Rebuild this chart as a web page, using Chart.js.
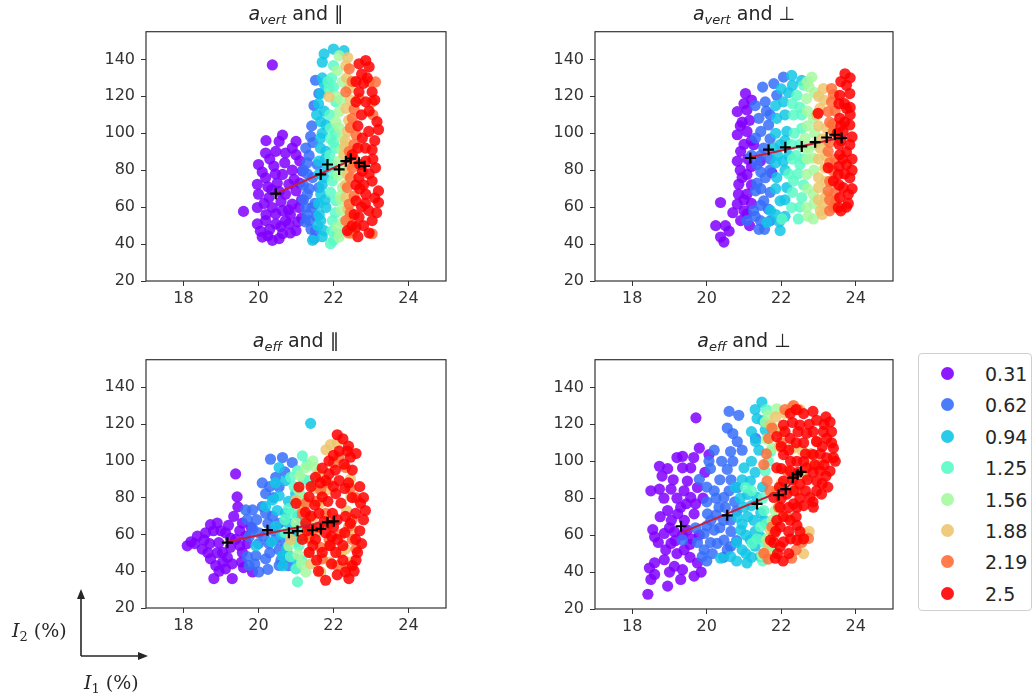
<!DOCTYPE html>
<html>
<head>
<meta charset="utf-8">
<script src="https://cdn.jsdelivr.net/npm/chart.js@4/dist/chart.umd.min.js"></script>
<style>
  body { margin: 0; background: #fff; width: 1036px; height: 700px; position: relative; overflow: hidden; }
  canvas { position: absolute; }
  .title { position: absolute; text-align: center; font-family: "DejaVu Sans", sans-serif; font-size: 19px; color: #262626; line-height: 22px; }
  .title sub { font-size: 13px; font-style: italic; vertical-align: -4px; line-height: 0; }
  .legend { position: absolute; left: 918px; top: 353px; width: 114px; height: 258px; border: 1px solid #cfcfcf; border-radius: 4px; box-sizing: border-box; }
  .legend .row { position: absolute; left: 0; height: 24px; width: 112px; font-family: "DejaVu Sans", sans-serif; font-size: 19px; color: #262626; line-height: 24px; }
  .legend .dot { position: absolute; left: 22px; top: 5px; width: 13px; height: 13px; border-radius: 50%; }
  .legend .lab { position: absolute; left: 66px; top: 0; }
  .note { position: absolute; font-family: "DejaVu Serif", serif; font-size: 19px; color: #262626; line-height: 22px; white-space: nowrap; }
  .note sub { font-size: 13px; font-style: normal; vertical-align: -4px; line-height: 0; }
</style>
</head>
<body>
<canvas id="c0" width="357" height="290" style="left:99px;top:24px"></canvas>
<canvas id="c1" width="355" height="290" style="left:548px;top:24px"></canvas>
<canvas id="c2" width="357" height="289" style="left:99px;top:352px"></canvas>
<canvas id="c3" width="355" height="290" style="left:548px;top:352px"></canvas>

<div class="title" style="left:146px;top:2px;width:300px"><i>a</i><sub>vert</sub> and ∥</div>
<div class="title" style="left:595px;top:2px;width:298px"><i>a</i><sub>vert</sub> and ⊥</div>
<div class="title" style="left:146px;top:329px;width:300px"><i>a</i><sub>eff</sub> and ∥</div>
<div class="title" style="left:595px;top:329px;width:298px"><i>a</i><sub>eff</sub> and ⊥</div>

<div class="legend" id="legend"></div>

<svg width="1036" height="700" style="position:absolute;left:0;top:0;pointer-events:none">
  <line x1="81" y1="656" x2="81" y2="596" stroke="#262626" stroke-width="1.6"/>
  <polygon points="81,589 77,599 85,599" fill="#262626"/>
  <line x1="81" y1="656" x2="141" y2="656" stroke="#262626" stroke-width="1.6"/>
  <polygon points="148,656 138,652 138,660" fill="#262626"/>
</svg>
<div class="note" style="left:12px;top:619px"><i>I</i><sub>2</sub> (%)</div>
<div class="note" style="left:84px;top:671px"><i>I</i><sub>1</sub> (%)</div>

<script>
// size classes (legend) and axis ticks
const sizeLabels = ['0.31', '0.62', '0.94', '1.25', '1.56', '1.88', '2.19', '2.5'];
const xTicks = [18, 20, 22, 24];
const yTicks = [20, 40, 60, 80, 100, 120, 140];

// a_vert and parallel : one list of [I1, I2] per size class
const vertPar = [
  [[20.64,99],[20.55,95.6],[21.0,95.6],[20.19,89.3],[20.46,90.2],[20.72,89.3],[21.0,88.4],[20.0,83.1],[20.41,82.2],[20.64,77.7],[21.17,79.5],[19.97,72.4],[20.19,75.9],[20.81,72.4],[20.0,67],[20.28,65.2],[20.72,67],[21.0,68.8],[19.97,59.8],[20.37,59.8],[20.64,58.1],[20.9,61.6],[21.08,59.8],[19.97,50.9],[20.19,52.7],[20.46,50.9],[20.81,50.9],[20.1,43.8],[20.37,42],[20.64,45.6],[21.0,47.3],[20.46,56.3],[20.72,52.7],[20.37,137],[19.6,57.7],
   [20.2,96],[20.9,92],[20.3,86],[20.7,84],[21.1,85],[20.1,79],[20.45,78],[20.9,80],[20.25,71],[20.5,73],[21.1,73],[20.55,68.5],[20.15,62],[20.6,63],[21.15,64],[20.85,56],[21.15,54],[20.2,56],[20.05,47],[20.3,48],[20.6,49.5],[20.85,46],[20.25,44.5],[20.55,43],[20.8,58.5],[20.35,69.5],[21.05,52],[20.95,75]],
  [[21.52,128.7],[21.61,121.5],[21.48,115],[21.39,98.3],[21.26,92],[21.44,76],[21.3,67],[21.44,59.8],[21.35,52.7],[21.52,47.3],[21.48,42.9],[21.61,70.6],[21.26,59.8],[21.57,83],[21.3,84],[21.2,64],
   [21.35,88],[21.45,95],[21.3,78],[21.2,72],[21.5,62],[21.3,56],[21.4,48],[21.25,52],[21.55,55],[21.2,80],[21.42,104],[21.35,70]],
  [[22.0,145.6],[21.75,143],[21.7,138.5],[21.75,126.9],[21.66,121.5],[21.66,106.3],[21.8,104.5],[21.66,97.4],[21.8,90.2],[21.61,84.9],[21.75,76],[21.66,67],[21.8,59.8],[21.66,52.7],[21.75,47.3],[21.44,42],[22.28,144.7],[21.84,81.3],[21.55,110],
   [21.7,130],[21.6,116],[21.75,112],[21.7,100],[21.65,92],[21.78,86],[21.62,78],[21.7,72],[21.6,62],[21.78,64],[21.62,56],[21.7,44],[21.58,50]],
  [[21.92,40.2],[22.0,136.7],[22.06,117],[21.92,102.7],[22.06,92],[21.97,74.1],[22.06,63.4],[21.97,52.7],[22.1,45.6],[21.88,124.2],[21.97,83.1],[21.9,110],[22.0,95],
   [21.95,130],[21.85,128],[22.0,125],[22.05,100],[21.9,88],[22.02,78],[21.92,68],[22.05,57],[21.95,47],[22.0,42],[21.92,97]],
  [[22.15,142],[22.24,127.8],[22.15,111.7],[22.24,97.4],[22.15,84.9],[22.24,70.6],[22.2,58.1],[22.15,43.8],[22.06,106.3],[22.1,120],[22.2,64],
   [22.1,134],[22.2,118],[22.15,103],[22.22,91],[22.12,77],[22.18,66],[22.25,52],[22.1,49],[22.2,80]],
  [[22.33,136.7],[22.42,124.2],[22.33,113.5],[22.37,101],[22.28,88.4],[22.37,77.7],[22.33,65.2],[22.42,54.5],[22.5,45.6],[21.88,119.7],[22.3,93],
   [22.35,130],[22.45,118],[22.4,107],[22.32,96],[22.42,83],[22.32,72],[22.38,59],[22.45,49],[22.38,141]],
  [[22.42,134.9],[23.12,127.8],[22.33,122.4],[23.03,117],[22.5,108.1],[22.6,99.2],[22.42,90.2],[22.5,81.3],[22.37,70.6],[22.42,61.6],[22.33,52.7],[23.03,45.6],[22.68,118.8],
   [22.5,128],[22.55,113],[22.45,103],[22.55,94],[22.45,76],[22.55,66],[22.45,57],[22.4,46],[22.95,128],[23.05,110],[22.55,86]],
  [[22.68,137.6],[22.86,139.4],[23.03,122.4],[22.68,122.4],[22.86,117],[22.6,117],[23.16,106.3],[22.94,101],[22.77,97.4],[23.03,91.1],[22.86,84.9],[22.5,88.4],[22.68,76],[23.03,74.1],[23.2,68.8],[22.86,67],[22.6,63.4],[23.2,62.5],[22.94,58.1],[22.68,54.5],[23.03,52.7],[22.37,47.3],[22.6,49.1],[22.77,79.5],[23.12,81.3],[22.9,130],[22.6,128],[23.1,96],[22.7,70],
   [22.75,132],[22.95,136],[22.8,127],[23.1,118],[22.75,110],[22.95,112],[23.2,102],[22.65,104],[22.85,92],[22.65,92],[23.05,86],[22.95,78],[22.7,83],[22.6,72],[22.8,72],[23.1,65],[22.75,60],[22.55,56],[22.8,50],[22.95,46],[22.5,50],[23.15,57],[22.65,44],[22.85,62]]
];
const vertParMeans = [[20.46,67.3],[21.66,77.7],[21.84,83.1],[22.15,80.4],[22.33,84.9],[22.46,86.3],[22.68,84.0],[22.83,82.2]];
const vertParFit = [[20.46,67.3],[22.6,86.6]];

// a_vert and perpendicular
const vertPerp = [
  [[21.04,121.5],[20.82,111.7],[21.08,112.6],[20.82,99.2],[21.08,101],[20.91,90.2],[20.82,84.9],[21.08,77.7],[20.86,72.4],[21.08,67],[20.82,61.6],[21.08,56.3],[20.37,62.5],[20.24,50],[20.5,50],[20.37,43.8],[20.46,41.1],[20.91,52.7],[21.75,78.6],[21.26,93.8],[21.44,84.9],[20.95,106],[20.9,80],
   [21.2,118],[21.0,116],[21.15,107],[20.9,104],[21.2,96],[21.0,94],[21.1,86],[21.2,82],[20.95,76],[21.2,72],[21.0,64],[21.2,62],[21.15,50],[21.0,58],[20.85,67],[20.7,57],[20.6,47]],
  [[21.8,126.9],[21.57,117],[21.88,120.6],[21.4,108.1],[21.66,104.5],[21.31,97.4],[21.53,92],[21.35,83.1],[21.57,75.9],[21.31,68.8],[21.53,63.4],[21.26,58.1],[21.08,52.7],[21.44,52.7],[22.06,130.4],[21.71,52.7],[21.3,115],[21.35,73],
   [21.5,125],[21.6,112],[21.45,101],[21.7,97],[21.45,88],[21.7,86],[21.45,79],[21.7,80],[21.45,70],[21.7,68],[21.45,61],[21.65,59],[21.3,55],[21.4,48],[21.55,48],[21.7,110],[21.2,88]],
  [[22.28,131.3],[22.55,128.6],[22.06,117],[21.88,108.1],[22.15,101],[21.97,93.8],[22.06,84.9],[21.88,76],[22.15,70.6],[21.97,63.4],[21.71,58.1],[21.97,47.3],[21.62,51.8],[22.2,122],[21.9,88],
   [22.3,126],[22.0,124],[21.85,115],[22.1,110],[21.85,100],[22.1,96],[21.85,84],[22.1,80],[21.85,70],[22.1,64],[21.85,56],[22.1,55],[21.95,52],[21.8,92],[22.2,88]],
  [[22.42,120.6],[22.33,109.9],[22.55,102.7],[22.28,93.8],[22.5,83.1],[22.33,74.1],[22.55,65.2],[22.28,59.8],[22.46,53.6],[22.02,53.6],[22.5,114],[22.4,88],
   [22.6,126],[22.3,116],[22.55,110],[22.35,100],[22.5,94],[22.3,86],[22.45,78],[22.3,68],[22.5,60],[22.6,72],[22.2,78],[22.6,86]],
  [[22.82,130.4],[22.68,118.8],[22.86,108.1],[22.64,97.4],[22.86,86.6],[22.68,77.7],[22.86,67],[22.68,59.8],[22.86,53.6],[22.75,125],[22.75,92],
   [22.7,128],[22.9,122],[22.7,112],[22.9,100],[22.7,104],[22.9,94],[22.7,86],[22.88,80],[22.7,70],[22.88,62],[22.72,55],[22.65,92]],
  [[23.13,124.2],[23.04,113.5],[23.22,102.7],[23.04,92],[23.17,81.3],[23.0,70.6],[23.13,61.6],[22.95,109.9],[23.1,56],[23.1,97],
   [23.15,118],[23.0,104],[23.2,96],[23.0,86],[23.2,88],[23.0,76],[23.2,74],[23.0,64],[23.2,66],[23.05,58],[23.0,120]],
  [[23.35,124.2],[23.26,111.7],[23.4,101],[23.26,90.2],[23.4,79.5],[23.26,68.8],[23.4,59.8],[23.35,117],[23.3,64],[23.3,95],
   [23.4,121],[23.3,106],[23.45,112],[23.3,84],[23.45,86],[23.3,74],[23.45,68],[23.3,58],[23.45,63],[23.38,105]],
  [[23.71,132.2],[23.75,126],[23.57,120.6],[23.84,121.5],[23.75,113.5],[23.57,108.1],[23.84,104.5],[23.66,101],[23.84,93.8],[23.57,88.4],[23.75,83.1],[23.53,77.7],[23.84,75.9],[23.66,70.6],[23.57,65.2],[23.8,67],[23.53,59.8],[22.99,110.8],[23.26,81.3],[23.4,74.1],[23.8,62],[23.6,96],[23.7,116],
   [23.6,128],[23.85,130],[23.55,116],[23.85,110],[23.6,104],[23.9,98],[23.55,94],[23.75,90],[23.9,86],[23.55,82],[23.7,78],[23.9,70],[23.55,72],[23.75,60],[23.9,80],[23.65,86],[23.85,114],[23.5,100],[23.7,106],[23.6,58]]
];
const vertPerpMeans = [[21.17,86.6],[21.66,91.1],[22.11,92.4],[22.55,92.9],[22.91,95.2],[23.22,97.7],[23.44,99.2],[23.62,97.4]];
const vertPerpFit = [[21.17,87.0],[23.75,98.3]];

// a_eff and parallel
const effPar = [
  [[18.1,53.8],[18.37,59.1],[18.72,65.3],[18.9,66.2],[18.5,52],[18.72,46.7],[19.04,50.2],[18.81,36],[19.12,41.3],[19.3,36],[19.39,92.9],[19.43,80.4],[19.34,69.8],[19.57,66.2],[19.12,60.9],[18.94,55.5],[19.39,57.3],[19.66,59.1],[18.86,43.1],[19.17,47.5],[18.59,60.9],[19.57,50.2],[19.84,39.6],[18.3,55],[19.0,62],
   [18.2,56],[18.55,57],[18.8,62],[19.2,65],[19.5,62],[19.7,55],[18.9,50],[19.25,53],[19.5,54],[18.7,55],[19.05,45],[19.3,44],[19.55,45],[18.95,40],[19.6,42],[19.45,75],[19.25,58],[19.8,64],[18.65,50]],
  [[20.32,100.9],[20.64,101.8],[20.9,99.1],[20.46,91.1],[20.55,85.8],[20.19,82.2],[19.84,73.3],[19.66,73.3],[20.1,75.1],[20.37,69.8],[19.75,58.7],[20.01,60.9],[20.28,55.1],[20.55,51.7],[19.93,48.4],[20.19,46.7],[19.75,43.1],[20.55,43.1],[20.01,39.6],[20.81,48.4],[20.19,71.5],[20.4,62],
   [19.7,68],[19.95,68],[20.25,66],[20.55,66],[19.85,63],[20.15,59],[20.45,57],[20.7,56],[20.0,55],[20.3,50],[20.6,46],[20.8,43],[19.9,44],[20.25,41],[20.4,80],[20.7,94],[20.1,88],[20.3,86],[19.7,48]],
  [[21.39,120.4],[20.37,78.7],[20.72,89.3],[20.46,64.4],[20.72,71.5],[20.99,82.2],[20.9,57.3],[20.64,48.4],[21.08,64.4],[20.19,75.1],[20.55,96.4],[21.0,41.4],[19.93,53.8],[20.8,66],
   [20.5,73],[20.6,60],[20.75,52],[20.95,62],[20.35,56],[20.8,78],[21.05,70],[20.55,81],[20.65,43],[20.95,47],[20.45,88],[21.1,59]],
  [[21.17,102.7],[21.04,94.7],[20.86,91.1],[21.17,80.4],[20.9,71.5],[20.72,60.9],[21.08,53.8],[21.0,41.3],[21.04,34.2],[21.21,64.4],[21.35,89.3],
   [20.95,86],[21.1,76],[20.8,74],[21.0,56],[20.85,48],[21.15,46],[20.7,68],[21.3,98],[21.2,90]],
  [[21.26,96.4],[21.08,83.8],[21.0,66.2],[21.35,57.3],[20.81,53.8],[21.26,39.6],[21.52,96.4],
   [21.1,92],[21.2,79],[21.15,60],[21.05,49],[21.3,70],[21.45,100],[21.15,44]],
  [[21.92,108.9],[21.0,78.7],[20.86,57.3],[21.17,73.3],[21.44,68],[21.35,50.2],[21.66,39.6],[22.46,80.4],[22.32,52],[22.5,62.6],[21.79,84],[21.61,92.9],
   [21.3,60],[21.55,61],[21.4,44],[21.65,77],[22.1,110],[21.8,106],[22.35,73],[22.2,50],[21.9,45],[22.45,45],[21.5,85],[22.45,90]],
  [[21.26,76.9],[21.17,71.5],[21.44,62.6],[21.66,84],[21.79,71.5],[22.15,101.8],[22.32,96.4],[22.41,64.4],[21.92,53.8],[22.1,43.1],[22.5,57.3],[21.7,46.7],[21.88,57.3],
   [21.35,58],[21.55,78],[21.9,66],[22.0,99],[22.45,85],[22.5,68],[22.2,60],[22.6,52],[21.65,53],[22.35,42],[21.85,88],[22.6,80]],
  [[22.1,114.2],[22.15,105.3],[22.37,105.3],[21.88,100],[22.28,98.2],[21.52,91.1],[21.88,92.9],[22.15,89.3],[21.35,80.4],[21.7,80.4],[22.06,82.2],[21.0,76.9],[22.72,76.9],[21.26,66.2],[21.61,71.5],[21.97,71.5],[22.32,69.8],[22.59,71.5],[21.17,57.3],[21.52,57.3],[21.79,60.9],[22.1,57.3],[22.59,57.3],[21.35,50.2],[21.7,50.2],[22.06,50.2],[22.5,43.1],[21.79,35.1],[22.41,36],[22.64,50.2],[22.32,39.6],[21.08,85.8],[21.79,89.3],[22.3,85],[22.0,64],
   [22.25,112],[22.45,102],[22.0,103],[21.7,96],[22.05,95],[22.5,95],[21.4,86],[21.65,88],[22.0,86],[22.4,88],[21.5,76],[21.85,78],[22.2,77],[22.5,80],[22.8,80],[21.4,70],[21.75,67],[22.1,68],[22.45,66],[22.8,68],[21.3,62],[21.6,64],[21.95,59],[22.3,61],[22.7,62],[21.45,54],[21.9,54],[22.25,54],[22.75,55],[21.55,46],[21.95,44],[22.25,46],[22.6,46],[22.1,38],[21.6,40],[22.55,40],[22.85,73],[22.7,86],[21.25,72],[22.4,108],[22.6,104]]
];
const effParMeans = [[19.17,55.5],[20.24,62.3],[20.81,60.9],[21.04,61.8],[21.44,62.3],[21.66,63],[21.84,66.6],[22.01,67.1]];
const effParFit = [[19.12,55.9],[22.06,68.0]];

// a_eff and perpendicular
const effPerp = [
  [[18.42,28],[18.46,42.2],[18.6,38.7],[18.95,32.4],[19.71,123.5],[18.73,97.3],[19.35,102.7],[19.57,96.4],[19.35,96.4],[20.06,103.6],[19.8,107.1],[18.73,84.9],[19.04,84.9],[19.39,84],[19.57,80.4],[19.75,85.8],[18.95,73.3],[19.3,75.1],[19.66,71.5],[18.6,59.1],[18.86,60.9],[19.13,61.8],[19.48,62.7],[18.86,46.7],[19.13,43.1],[19.35,41.3],[19.66,37.8],[19.04,55.5],[19.39,52],[19.75,44.9],[19.48,89.3],[19.22,71.5],
   [18.5,84],[18.8,92],[19.1,90],[19.2,80],[18.85,80],[19.45,77],[19.7,77],[18.75,70],[19.05,68],[19.4,68],[18.55,63],[19.0,64],[19.35,60],[19.6,58],[18.7,56],[19.15,57],[19.55,55],[19.8,60],[18.9,52],[19.2,50],[19.55,48],[18.6,45],[19.0,40],[19.3,36],[18.5,36],[19.85,40],[18.95,96],[19.2,102],[19.65,102],[19.95,94],[19.9,80]],
  [[20.6,127],[20.86,124.9],[20.82,110.7],[20.64,105.3],[20.06,100],[20.55,95.6],[19.8,90.2],[20.2,84],[20.46,80.4],[20.82,85.8],[20.02,71.5],[20.33,75.1],[20.64,68],[19.93,60.9],[20.2,62.7],[20.46,57.3],[19.93,52],[20.28,55.5],[20.64,53.8],[19.88,48.4],[19.35,57.3],[20.11,68],[21.31,112.4],
   [20.1,96],[20.4,100],[20.7,100],[20.35,90],[20.65,90],[20.0,86],[20.6,84],[20.25,80],[20.75,78],[20.0,78],[20.5,75],[20.25,71],[20.45,68],[20.8,73],[20.0,65],[20.35,64],[20.65,62],[19.75,56],[20.1,56],[20.55,52],[20.8,57],[20.15,50],[20.45,48],[19.7,64],[20.0,46],[20.7,115],[20.95,106],[20.55,118],[20.2,106]],
  [[21.48,132],[21.35,123.1],[21.57,116.9],[21.31,110.7],[21.0,96.4],[21.17,89.3],[20.77,85.8],[21.35,80.4],[21.0,75.1],[21.26,68],[20.91,62.7],[21.17,57.3],[20.64,48.4],[21.08,44.9],[21.44,59.1],[20.82,69.8],[20.37,47.5],[21.44,48.4],
   [21.3,128],[21.5,122],[21.2,116],[21.4,106],[21.2,100],[20.95,90],[21.3,94],[21.1,82],[20.9,80],[21.2,76],[21.45,72],[21.1,70],[20.95,66],[21.3,62],[21.05,60],[20.8,56],[21.3,54],[20.95,52],[21.2,48],[20.8,46],[21.05,50],[21.55,68],[21.5,86]],
  [[21.04,85.8],[21.53,73.3],[21.44,64.4],[21.71,53.8],[21.22,55.5],[21.71,105.3],[21.57,94.7],
   [21.6,128],[21.65,100],[21.5,80],[21.6,66],[21.35,58],[21.55,56],[21.5,46],[21.2,84]],
  [[21.88,128.4],[21.57,121.3],[21.75,107.1],[21.48,49.3],[21.71,50.2],[21.84,73.3],
   [21.65,125],[21.8,118],[21.6,112],[21.62,58],[21.8,50],[21.75,68]],
  [[22.28,129.3],[21.71,119.6],[21.97,116],[21.71,62.7],[21.57,50.2],[22.64,60.9],[22.33,107.1],[22.77,98.2],[22.42,84],[21.88,84],
   [22.1,126],[21.85,124],[22.5,128],[21.95,108],[22.55,106],[22.65,92],[22.3,86],[22.0,88],[21.65,56],[22.75,62],[22.6,50],[21.8,66]],
  [[22.33,130.2],[21.66,112.4],[21.53,98.2],[21.62,89.3],[21.75,64.4],[21.53,50.2],[22.28,47.5],[22.73,58.2],[22.15,94.7],[22.95,110.7],[21.93,75.1],
   [22.45,128],[22.1,128],[21.75,118],[21.6,104],[21.7,84],[21.8,60],[21.65,47],[22.4,52],[22.55,56],[22.8,104],[23.0,98],[22.0,110],[22.15,70]],
  [[22.24,125.8],[22.6,125.8],[22.95,122.2],[23.31,121.3],[22.5,119.6],[22.06,119.6],[21.88,113.3],[22.24,112.4],[22.68,115.1],[23.13,116],[22.95,110.7],[23.4,107.1],[23.22,112.4],[22.06,103.6],[22.42,100],[22.86,103.6],[23.22,101.8],[21.88,96.4],[22.24,94.7],[22.68,96.4],[23.04,94.7],[23.31,94.7],[22.06,89.3],[22.5,87.6],[22.95,89.3],[22.15,82.2],[22.77,80.4],[23.08,82.2],[21.8,80.4],[21.97,75.1],[22.33,76.9],[21.88,68],[22.24,68],[21.97,64.4],[22.42,65.3],[21.71,57.3],[22.06,56.4],[22.42,57.3],[21.84,47.5],[21.97,53.8],[22.42,75.1],[22.86,75.1],
   [22.4,128],[22.85,127],[23.2,124],[22.3,121],[22.75,120],[23.15,120],[22.1,116],[22.45,116],[22.85,116],[23.35,116],[22.0,108],[22.4,110],[22.6,110],[23.1,108],[23.35,110],[22.2,106],[22.65,104],[23.05,104],[23.4,102],[22.25,100],[22.6,100],[22.9,98],[23.15,98],[23.45,100],[22.0,96],[22.45,94],[22.85,94],[23.2,92],[22.3,90],[22.7,90],[23.1,88],[21.95,86],[22.35,84],[22.65,84],[22.95,84],[23.25,86],[22.0,80],[22.5,80],[22.85,78],[22.2,75],[22.6,76],[22.05,70],[22.4,70],[21.85,62],[22.2,62],[22.5,62],[21.8,56],[22.25,58],[22.6,58],[21.9,50],[22.2,50],[22.05,46]]
];
const effPerpMeans = [[19.31,64.8],[20.55,70.7],[21.35,76.9],[21.93,81.7],[22.12,84.9],[22.31,91.1],[22.44,92.9],[22.53,94.3]];
const effPerpFit = [[19.31,61.2],[22.12,84.9],[22.5,93.5]];

// rainbow colormap samples for the 8 classes
const classColors = [
  [128, 0, 255], [55, 111, 249], [18, 199, 230], [91, 249, 199],
  [164, 249, 159], [237, 199, 111], [255, 111, 57], [255, 0, 0]
];
const rgba = (c, a) => 'rgba(' + c[0] + ',' + c[1] + ',' + c[2] + ',' + a + ')';

// axes frame on all four sides, like matplotlib spines
const framePlugin = {
  id: 'frame',
  afterDatasetsDraw(chart) {
    const a = chart.chartArea;
    const ctx = chart.ctx;
    ctx.save();
    ctx.strokeStyle = '#333';
    ctx.lineWidth = 1.2;
    ctx.strokeRect(a.left, a.top, a.right - a.left, a.bottom - a.top);
    ctx.restore();
  }
};

const toXY = pts => pts.map(p => ({ x: p[0], y: p[1] }));

function makeChart(canvasId, groups, means, fit) {
  const ctx = document.getElementById(canvasId).getContext('2d');

  const datasets = groups.map((pts, i) => ({
    label: sizeLabels[i],
    data: toXY(pts),
    backgroundColor: rgba(classColors[i], 0.85),
    borderWidth: 0,
    pointRadius: 5.6,
    pointHoverRadius: 5.6,
    order: 10 - i
  }));

  // fitted trend
  datasets.push({
    label: 'fit',
    data: toXY(fit),
    showLine: true,
    borderColor: '#c81e3a',
    borderWidth: 2,
    pointRadius: 0,
    order: 1
  });

  // binned means
  datasets.push({
    label: 'means',
    data: toXY(means),
    pointStyle: 'cross',
    pointRadius: 5.5,
    borderColor: '#000',
    borderWidth: 2.2,
    order: 0
  });

  const tickFont = { family: 'DejaVu Sans', size: 16 };

  return new Chart(ctx, {
    type: 'scatter',
    data: { datasets: datasets },
    options: {
      responsive: false,
      animation: false,
      layout: { padding: { top: 5, right: 10, left: 0, bottom: 0 } },
      plugins: { legend: { display: false }, tooltip: { enabled: false } },
      scales: {
        x: {
          type: 'linear', min: 17, max: 25,
          afterBuildTicks: s => { s.ticks = xTicks.map(v => ({ value: v })); },
          afterFit: s => { s.height = 33; s.paddingLeft = 0; s.paddingRight = 0; },
          grid: { display: true, drawOnChartArea: false, drawTicks: true, tickLength: 5, tickColor: '#333' },
          border: { display: false },
          ticks: { font: tickFont, color: '#333', padding: 3, maxRotation: 0 }
        },
        y: {
          type: 'linear', min: 20, max: 155,
          afterBuildTicks: s => { s.ticks = yTicks.map(v => ({ value: v })); },
          afterFit: s => { s.width = 47; s.paddingTop = 0; s.paddingBottom = 0; },
          grid: { display: true, drawOnChartArea: false, drawTicks: true, tickLength: 5, tickColor: '#333' },
          border: { display: false },
          ticks: { font: tickFont, color: '#333', padding: 6 }
        }
      }
    },
    plugins: [framePlugin]
  });
}

makeChart('c0', vertPar, vertParMeans, vertParFit);
makeChart('c1', vertPerp, vertPerpMeans, vertPerpFit);
makeChart('c2', effPar, effParMeans, effParFit);
makeChart('c3', effPerp, effPerpMeans, effPerpFit);

// legend
const legend = document.getElementById('legend');
sizeLabels.forEach((lab, i) => {
  const row = document.createElement('div');
  row.className = 'row';
  row.style.top = (8 + i * 31.4) + 'px';
  row.innerHTML = '<span class="dot" style="background:' + rgba(classColors[i], 0.9) + '"></span><span class="lab">' + lab + '</span>';
  legend.appendChild(row);
});
</script>
</body>
</html>
